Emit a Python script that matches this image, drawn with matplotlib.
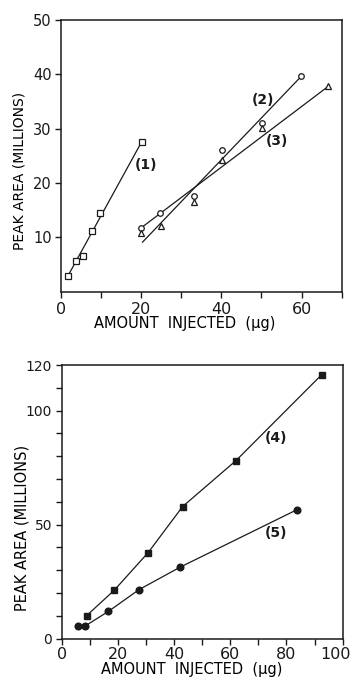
import matplotlib
matplotlib.use("Agg")
import matplotlib.pyplot as plt
from matplotlib.ticker import MultipleLocator, FixedLocator
from matplotlib.transforms import ScaledTranslation

# Top panel: compounds (1)-(3)
s1_x = [1.75, 3.74, 5.64, 7.73, 9.88, 20.2]
s1_y = [2.8, 5.6, 6.6, 11.1, 14.4, 27.6]
s2_x = [20.0, 24.8, 33.3, 40.1, 50.1, 59.9]
s2_y = [11.7, 14.4, 17.5, 26.0, 31.0, 39.6]
s3_x = [20.0, 25.0, 33.3, 40.3, 50.1, 66.7]
s3_y = [10.7, 12.0, 16.4, 24.3, 30.1, 37.8]

# hand-drawn calibration lines (end points)
fit1_x = [1.75, 20.2]
fit1_y = [2.8, 27.6]
fit2_x = [20.4, 59.9]
fit2_y = [9.1, 39.6]
fit3_x = [20.0, 66.7]
fit3_y = [11.7, 37.8]

# Bottom panel: compounds (4)-(5)
s4_x = [8.6, 18.5, 30.6, 42.9, 61.9, 92.6]
s4_y = [10.0, 21.2, 37.7, 57.9, 78.0, 115.8]
s5_x = [5.7, 8.1, 16.4, 27.4, 42.0, 83.7]
s5_y = [5.5, 5.5, 11.9, 21.5, 31.3, 56.5]

top_yticks = [10, 20, 30, 40, 50]
top_xticks = [0, 20, 40, 60]
bot_yticks = [0, 50, 100, 120]
bot_xticks = [0, 20, 40, 60, 80, 100]

INK = "#1a1a1a"
LW = 0.9
XLABEL = "AMOUNT  INJECTED  (\u00b5g)"
YLABEL = "PEAK AREA (MILLIONS)"

plt.rcParams.update({
    "font.family": "DejaVu Sans",
    "axes.linewidth": 1.1,
    "axes.edgecolor": INK,
    "xtick.color": INK,
    "ytick.color": INK,
    "text.color": INK,
})

fig = plt.figure(figsize=(3.57, 6.8), dpi=100)
ax1 = fig.add_axes([0.170, 0.5713, 0.787, 0.3993])
ax2 = fig.add_axes([0.175, 0.061, 0.7844, 0.4022])


def style_axis(ax, xsize, ysize, xpad, ypad):
    ax.tick_params(which="both", direction="out", length=4.5, width=1.0)
    ax.tick_params(axis="x", labelsize=xsize, pad=xpad)
    ax.tick_params(axis="y", labelsize=ysize, pad=ypad)


# --- top panel ---
ax1.plot(fit1_x, fit1_y, color=INK, linewidth=LW)
ax1.plot(fit2_x, fit2_y, color=INK, linewidth=LW)
ax1.plot(fit3_x, fit3_y, color=INK, linewidth=LW)
ax1.plot(s1_x, s1_y, "s", ms=4.5, mfc="white", mec=INK, mew=0.9)
ax1.plot(s2_x, s2_y, "o", ms=4.0, mfc="white", mec=INK, mew=0.9)
ax1.plot(s3_x, s3_y, "^", ms=4.5, mfc="white", mec=INK, mew=0.9)
ax1.text(21.2, 23.3, "(1)", fontsize=10, weight="bold", ha="center", va="center")
ax1.text(50.5, 35.3, "(2)", fontsize=10, weight="bold", ha="center", va="center")
ax1.text(54.0, 27.8, "(3)", fontsize=10, weight="bold", ha="center", va="center")

ax1.set_xlim(0, 70)
ax1.set_ylim(0, 50)
ax1.xaxis.set_major_locator(FixedLocator(top_xticks))
ax1.xaxis.set_minor_locator(MultipleLocator(10))
ax1.yaxis.set_major_locator(FixedLocator(top_yticks))
style_axis(ax1, 11.5, 10.5, 3, 2)
ax1.set_xlabel(XLABEL, fontsize=10.5, va="center")
ax1.xaxis.set_label_coords(0.441, -0.118)
ax1.set_ylabel(YLABEL, fontsize=10, va="center")
ax1.yaxis.set_label_coords(-0.145, 0.444)

# --- bottom panel ---
ax2.plot(s4_x, s4_y, "-s", color=INK, linewidth=LW, ms=5, mfc=INK, mec=INK)
ax2.plot(s5_x, s5_y, "-o", color=INK, linewidth=LW, ms=4.8, mfc=INK, mec=INK)
ax2.text(76.3, 88.1, "(4)", fontsize=10, weight="bold", ha="center", va="center")
ax2.text(76.3, 46.2, "(5)", fontsize=10, weight="bold", ha="center", va="center")

ax2.set_xlim(0, 100)
ax2.set_ylim(0, 120)
ax2.xaxis.set_major_locator(FixedLocator(bot_xticks))
ax2.xaxis.set_minor_locator(MultipleLocator(10))
ax2.yaxis.set_major_locator(FixedLocator(bot_yticks))
ax2.yaxis.set_minor_locator(MultipleLocator(10))
style_axis(ax2, 11.5, 10, 1.5, 3)
ax2.set_xlabel(XLABEL, fontsize=10.5, va="center")
ax2.xaxis.set_label_coords(0.46, -0.115)
ax2.set_ylabel(YLABEL, fontsize=10.5, va="center")
ax2.yaxis.set_label_coords(-0.146, 0.404)

# the "100" label sits a little left of its tick in the original
last = ax2.xaxis.get_major_ticks()[-1].label1
last.set_transform(last.get_transform() + ScaledTranslation(-5 / 72, 0, fig.dpi_scale_trans))

fig.savefig("out.png", dpi=100, facecolor="white")
